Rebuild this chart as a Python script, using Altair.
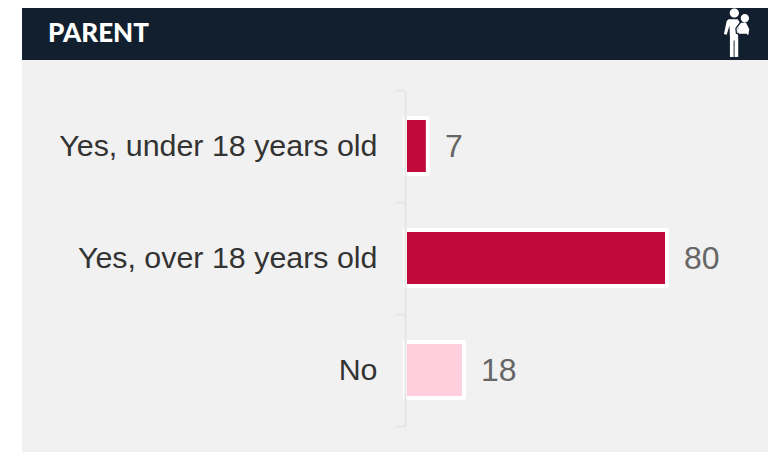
import altair as alt
import pandas as pd

categories = ["Yes, under 18 years old", "Yes, over 18 years old", "No"]
values = [7, 80, 18]
colors = ["#c00b3a", "#c00b3a", "#ffcfdd"]
title_text = ["PARENT"]

df = pd.DataFrame({"cat": categories, "val": values, "color": colors})

W, H = 746, 444
xs = alt.Scale(domain=[0, 100], range=[383, 710.5])
ys = alt.Scale(domain=categories, range=[82, 418], paddingInner=0, paddingOuter=0)

one = pd.DataFrame({"t": title_text})
header = alt.Chart(one).mark_rect(color="#111f2e").encode(
    x=alt.value(0), x2=alt.value(W), y=alt.value(0), y2=alt.value(52)
)
title = alt.Chart(one).mark_text(
    font="Lato", fontWeight=900, fontSize=26, color="#ffffff",
    align="left", baseline="alphabetic",
).encode(x=alt.value(26), y=alt.value(34), text="t:N")

ICON_FILL = (
    "M4.3 -21.7 A5 5 0 1 0 -5.7 -21.7 A5 5 0 1 0 4.3 -21.7 Z "
    "M15.2 -16 A4.5 4.5 0 1 0 6.2 -16 A4.5 4.5 0 1 0 15.2 -16 Z "
    "M-7 -15 L3 -15 L6 -10 L3 -4 L3.5 7 L3.5 26 L-0.5 26 L-0.5 8 L-1.5 8 L-1.5 26 L-5.5 26 L-5.5 4 "
    "L-6 -8 L-9 2 L-12 1 L-9 -13 Z "
    "M6 -11 L12 -11 L15.5 -4 L14.5 2 L4 2 L3 -3 Z"
)
ICON_LINE = "M7 -13 L1 -5 L1.5 0 L4 1.5 L13 1.5"


def icon_mark(path, **kw):
    return alt.Chart(one).mark_point(shape=path, size=3.4, opacity=1, **kw).encode(
        x=alt.value(713), y=alt.value(25)
    )


icon_a = icon_mark(ICON_FILL, filled=True, color="#ffffff")
icon_b = icon_mark(ICON_LINE, filled=False, stroke="#111f2e", strokeWidth=1.3)

base = alt.Chart(df)
bars = base.mark_bar(size=56, stroke="#ffffff", strokeWidth=4, cornerRadius=1).encode(
    x=alt.X("val:Q", scale=xs, axis=None),
    y=alt.Y(
        "cat:N", scale=ys, sort=categories, title=None,
        axis=alt.Axis(
            orient="left", offset=-383, tickBand="extent", domainColor="#e5e5e5", domainWidth=2,
            tickColor="#e5e5e5", tickWidth=2, tickSize=10, labelPadding=18, labelFontSize=30.4,
            labelFont="Liberation Sans", labelColor="#333333", labelLimit=400, grid=False, zindex=1,
        ),
    ),
    fill=alt.Fill("color:N", scale=None),
)
labels = base.mark_text(align="left", baseline="middle", dx=17, dy=1, fontSize=32, font="Liberation Sans", color="#666666").encode(
    x=alt.X("val:Q", scale=xs), y=alt.Y("cat:N", scale=ys, sort=categories), text="val:Q"
)

chart = alt.layer(header, bars, labels, title, icon_a, icon_b).properties(
    width=W, height=H, padding={"left": 14, "top": 0, "right": 0, "bottom": 0},
    autosize=alt.AutoSizeParams(type="none"), background="#ffffff",
).configure_view(fill="#f1f1f1", stroke=None)

chart.save("out.html", embed_options={"renderer": "svg", "actions": False})
